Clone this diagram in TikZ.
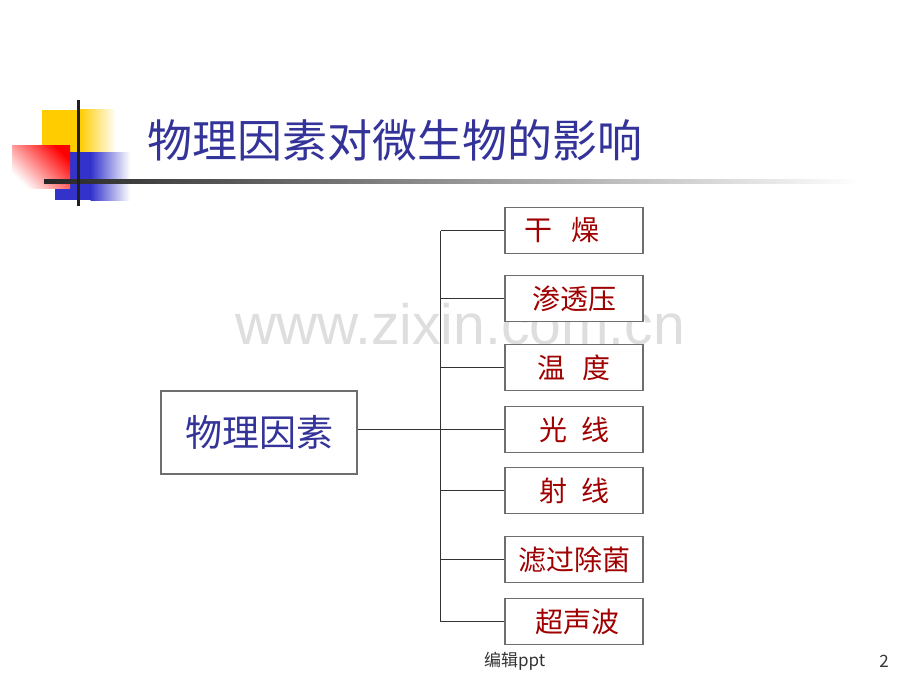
\documentclass[tikz,border=0pt]{standalone}
\usepackage{fontspec}
\setmainfont{Liberation Sans}
\newfontfamily\cjk{Noto Sans CJK SC}
\newfontfamily\wmfont{Liberation Sans}
\definecolor{titleblue}{HTML}{333399}
\definecolor{leafred}{HTML}{A00000}
\definecolor{boxgray}{HTML}{6E6E6E}
\definecolor{linegray}{HTML}{333333}
\definecolor{decoyellow}{HTML}{FFCC00}
\definecolor{decoblue}{HTML}{3333CC}
\definecolor{wmgray}{HTML}{DEDEDE}
\tikzset{
  leaf/.style={draw=boxgray, fill=white, line width=1.6pt, minimum width=138pt, minimum height=46pt,
    inner sep=0pt, font=\cjk\fontsize{28}{28}\selectfont, text=leafred},
  rootbox/.style={draw=boxgray, fill=white, line width=1.6pt, minimum width=196pt, minimum height=83pt,
    inner sep=0pt, font=\cjk\fontsize{37}{37}\selectfont, text=titleblue},
  conn/.style={draw=linegray, line width=1.4pt},
  titletext/.style={font=\cjk\fontsize{45}{45}\selectfont, text=titleblue, inner sep=0pt, anchor=west},
  foot/.style={font=\cjk\fontsize{17}{17}\selectfont, text=black!80, inner sep=0pt}
}
\begin{document}
\begin{tikzpicture}[x=1pt,y=-1pt]
\useasboundingbox (0,0) rectangle (920,690);
% watermark
\node[font=\wmfont\fontsize{57}{57}\selectfont, text=wmgray, inner sep=0pt, anchor=base] (wm) at (460,344) {www.zixin.com.cn};
% decoration
\fill[decoyellow] (42,110) rectangle (80,152);
\shade[left color=decoyellow, right color=white] (79.5,110) rectangle (116,152);
\fill[decoblue] (55,152) rectangle (91,200);
\shade[left color=decoblue, right color=white] (90.5,152) rectangle (130,200);
\shade[top color=red, bottom color=white, shading angle=-45] (12,145) rectangle (70,188);
\shade[left color=black!85, right color=white] (44,179.5) rectangle (860,183);
\fill[black!88] (76.5,100) rectangle (79.5,206);
% title
\node[titletext] (title) at (147,140) {物理因素对微生物的影响};
% root
\node[rootbox] (root) at (259,432.5) {物理因素};
% leaves
\node[leaf] (a1) at (574,230.5) {\hspace*{-24pt}干\hspace{0.7em}燥};
\node[leaf] (a2) at (574,298.5) {渗透压};
\node[leaf] (a3) at (574,367.5) {温\hspace{0.6em}度};
\node[leaf] (a4) at (574,429.5) {光\hspace{0.5em}线};
\node[leaf] (a5) at (574,490.5) {射\hspace{0.5em}线};
\node[leaf] (a6) at (574,559.5) {滤过除菌};
\node[leaf] (a7) at (574,621.5) {\hspace*{6pt}超声波};
\coordinate (bus) at (440.5,429.5);
% connectors
\draw[conn] (root.east |- a4.west) -- (a4.west);
\foreach \n in {a1,a2,a3,a5,a6,a7} { \draw[conn] (\n.west -| bus) -- (\n.west); }
\draw[conn] (a1.west -| bus) -- (a7.west -| bus);
% footer
\node[foot, anchor=west] (ft) at (484,661) {编辑ppt};
\node[foot, anchor=center] (pg) at (884,661) {2};
\end{tikzpicture}
\end{document}
